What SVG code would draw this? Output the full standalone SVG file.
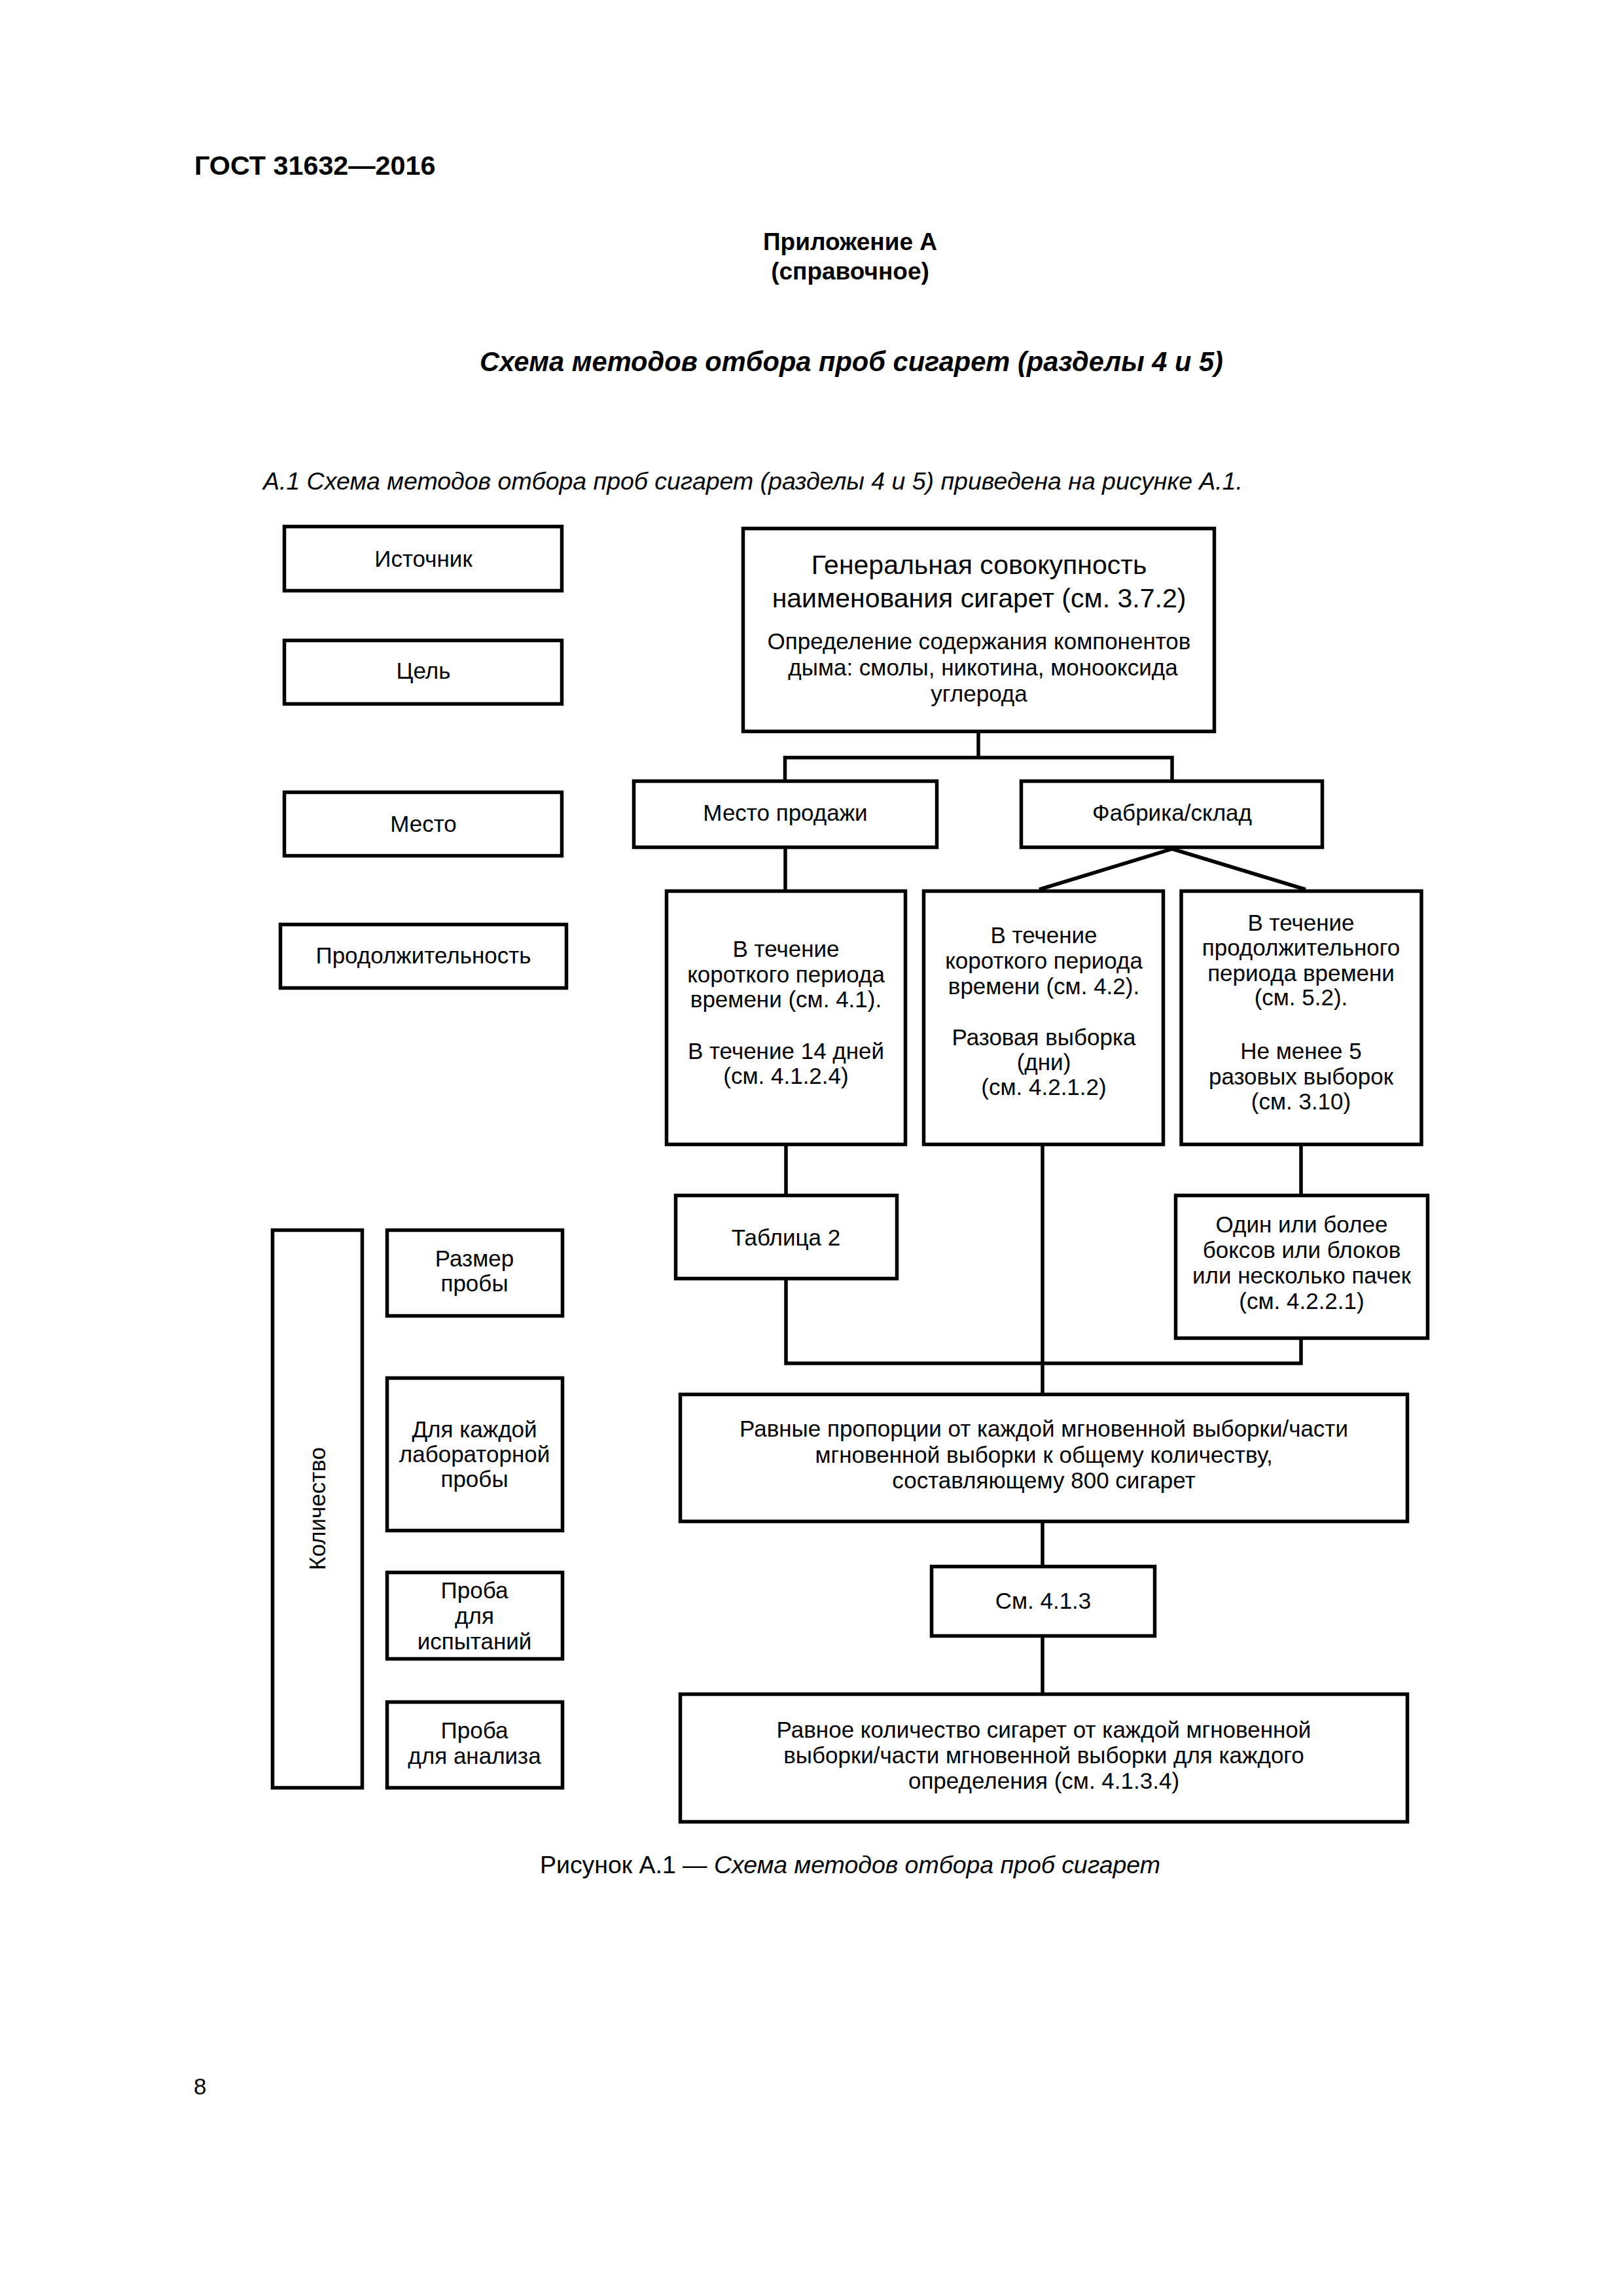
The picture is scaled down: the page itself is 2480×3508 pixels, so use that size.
<svg xmlns="http://www.w3.org/2000/svg" width="2480" height="3508" viewBox="0 0 2480 3508">
<style>
.box{fill:#fff;stroke:#000;stroke-width:5.5}
.conn{fill:none;stroke:#000;stroke-width:5.5;stroke-linejoin:miter}
text{font-family:"Liberation Sans",Arial,sans-serif;fill:#000}
.t{font-size:35px;text-anchor:middle}
.big{font-size:41px;text-anchor:middle}
</style>
<rect width="2480" height="3508" fill="#fff"/>
<g id="page-text">
<text x="297" y="267" font-size="41.3" font-weight="bold">ГОСТ 31632—2016</text>
<text x="1299" y="382" font-size="37" font-weight="bold" text-anchor="middle">Приложение А</text>
<text x="1299" y="427" font-size="37" font-weight="bold" text-anchor="middle">(справочное)</text>
<text x="1301" y="567" font-size="41.6" font-weight="bold" font-style="italic" text-anchor="middle">Схема методов отбора проб сигарет (разделы 4 и 5)</text>
<text x="402" y="748" font-size="37.5" font-style="italic" textLength="1497" lengthAdjust="spacing">А.1 Схема методов отбора проб сигарет (разделы 4 и 5) приведена на рисунке А.1.</text>
<text x="1299" y="2862" font-size="37.5" text-anchor="middle" textLength="948" lengthAdjust="spacing">Рисунок А.1 — <tspan font-style="italic">Схема методов отбора проб сигарет</tspan></text>
<text x="296" y="3200" font-size="35">8</text>
</g>
<g id="connectors">
<path class="conn" d="M1495 1120 V1157.5 M1199.5 1191 V1157.5 H1791 V1191"/>
<path class="conn" d="M1200 1297 V1359"/>
<path class="conn" d="M1791 1297 L1588 1359 M1791 1297 L1995 1359"/>
<path class="conn" d="M1201 1751 V1824 M1593 1751 V2128 M1988 1751 V1824"/>
<path class="conn" d="M1201 1956 V2083 H1988 V2047"/>
<path class="conn" d="M1593 2327 V2391 M1593 2502 V2586"/>
</g>
<g id="n-istochnik"><rect class="box" x="434.5" y="804.5" width="424" height="98"/><text class="t" x="647" y="866">Источник</text></g>
<g id="n-tsel"><rect class="box" x="434.5" y="978.5" width="424" height="97"/><text class="t" x="647" y="1037">Цель</text></g>
<g id="n-mesto"><rect class="box" x="434.5" y="1210.5" width="424" height="97"/><text class="t" x="647" y="1271">Место</text></g>
<g id="n-prodolzh"><rect class="box" x="428.5" y="1412.5" width="437" height="97"/><text class="t" x="647" y="1472">Продолжительность</text></g>
<g id="n-kolichestvo"><rect class="box" x="416.5" y="1879.5" width="137" height="852"/><text class="t" transform="translate(497 2305) rotate(-90)" x="0" y="0">Количество</text></g>
<g id="n-razmer"><rect class="box" x="591.5" y="1879.5" width="268" height="131"/><text class="t" x="725" y="1935">Размер</text><text class="t" x="725" y="1973">пробы</text></g>
<g id="n-dlya-kazhdoy"><rect class="box" x="591.5" y="2105.5" width="268" height="233"/><text class="t" x="725" y="2196">Для каждой</text><text class="t" x="725" y="2234">лабораторной</text><text class="t" x="725" y="2272">пробы</text></g>
<g id="n-proba-isp"><rect class="box" x="591.5" y="2402.5" width="268" height="132"/><text class="t" x="725" y="2442">Проба</text><text class="t" x="725" y="2481">для</text><text class="t" x="725" y="2520">испытаний</text></g>
<g id="n-proba-anal"><rect class="box" x="591.5" y="2600.5" width="268" height="131"/><text class="t" x="725" y="2656">Проба</text><text class="t" x="725" y="2695">для анализа</text></g>
<g id="n-generalnaya"><rect class="box" x="1135.5" y="807.5" width="720" height="310"/>
<text class="big" x="1496" y="877">Генеральная совокупность</text>
<text class="big" x="1496" y="928">наименования сигарет (см. 3.7.2)</text>
<text class="t" x="1496" y="992">Определение содержания компонентов</text>
<text class="t" x="1502" y="1032">дыма: смолы, никотина, монооксида</text>
<text class="t" x="1496" y="1072">углерода</text></g>
<g id="n-mesto-prodazhi"><rect class="box" x="968.5" y="1193.5" width="463" height="101"/><text class="t" x="1200" y="1254">Место продажи</text></g>
<g id="n-fabrika"><rect class="box" x="1560.5" y="1193.5" width="460" height="101"/><text class="t" x="1791" y="1254">Фабрика/склад</text></g>
<g id="n-dur1"><rect class="box" x="1018.5" y="1361.5" width="365" height="387"/>
<text class="t" x="1201" y="1462">В течение</text><text class="t" x="1201" y="1501">короткого периода</text><text class="t" x="1201" y="1539">времени (см. 4.1).</text><text class="t" x="1201" y="1618">В течение 14 дней</text><text class="t" x="1201" y="1656">(см. 4.1.2.4)</text></g>
<g id="n-dur2"><rect class="box" x="1411.5" y="1361.5" width="366" height="387"/>
<text class="t" x="1595" y="1441">В течение</text><text class="t" x="1595" y="1480">короткого периода</text><text class="t" x="1595" y="1519">времени (см. 4.2).</text><text class="t" x="1595" y="1597">Разовая выборка</text><text class="t" x="1595" y="1635">(дни)</text><text class="t" x="1595" y="1673">(см. 4.2.1.2)</text></g>
<g id="n-dur3"><rect class="box" x="1805" y="1361.5" width="367" height="387"/>
<text class="t" x="1988" y="1422">В течение</text><text class="t" x="1988" y="1460">продолжительного</text><text class="t" x="1988" y="1499">периода времени</text><text class="t" x="1988" y="1536">(см. 5.2).</text><text class="t" x="1988" y="1618">Не менее 5</text><text class="t" x="1988" y="1657">разовых выборок</text><text class="t" x="1988" y="1695">(см. 3.10)</text></g>
<g id="n-tablitsa"><rect class="box" x="1032.5" y="1826.5" width="338" height="127"/><text class="t" x="1201" y="1903">Таблица 2</text></g>
<g id="n-odin"><rect class="box" x="1796.5" y="1826.5" width="385" height="218"/>
<text class="t" x="1989" y="1883">Один или более</text><text class="t" x="1989" y="1922">боксов или блоков</text><text class="t" x="1989" y="1961">или несколько пачек</text><text class="t" x="1989" y="2000">(см. 4.2.2.1)</text></g>
<g id="n-ravnye"><rect class="box" x="1039.5" y="2130.5" width="1111" height="194"/>
<text class="t" x="1595" y="2195">Равные пропорции от каждой мгновенной выборки/части</text><text class="t" x="1595" y="2235">мгновенной выборки к общему количеству,</text><text class="t" x="1595" y="2274">составляющему 800 сигарет</text></g>
<g id="n-sm413"><rect class="box" x="1423.5" y="2393.5" width="341" height="106"/><text class="t" x="1594" y="2458">См. 4.1.3</text></g>
<g id="n-ravnoe"><rect class="box" x="1039.5" y="2588.5" width="1111" height="195"/>
<text class="t" x="1595" y="2655">Равное количество сигарет от каждой мгновенной</text><text class="t" x="1595" y="2694">выборки/части мгновенной выборки для каждого</text><text class="t" x="1595" y="2733">определения (см. 4.1.3.4)</text></g>
</svg>
